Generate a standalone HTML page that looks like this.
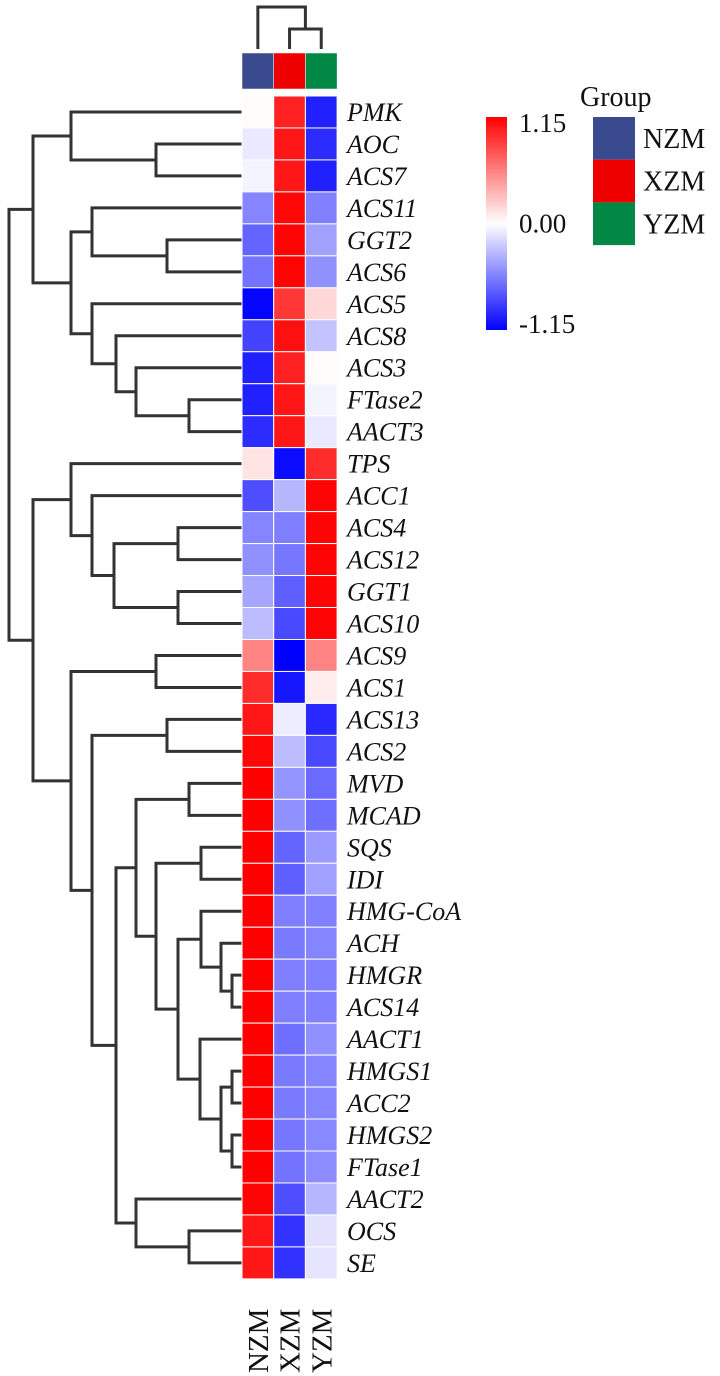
<!DOCTYPE html>
<html><head><meta charset="utf-8"><style>
html,body{margin:0;padding:0;background:#fff;}
svg{display:block;font-family:"Liberation Serif",serif;}
</style></head><body>
<svg id="chart" width="720" height="1376" viewBox="0 0 720 1376" xmlns="http://www.w3.org/2000/svg">
<g id="dendro-left"></g>
<g id="dendro-top"></g>
<g id="group-bar"></g>
<g id="cells"></g>
<g id="row-labels"></g>
<g id="col-labels"></g>
<g id="legend"></g>
<g id="group-legend"></g>
</svg>
<script>
const genes = ["PMK","AOC","ACS7","ACS11","GGT2","ACS6","ACS5","ACS8","ACS3","FTase2","AACT3","TPS","ACC1","ACS4","ACS12","GGT1","ACS10","ACS9","ACS1","ACS13","ACS2","MVD","MCAD","SQS","IDI","HMG-CoA","ACH","HMGR","ACS14","AACT1","HMGS1","ACC2","HMGS2","FTase1","AACT2","OCS","SE"];
const groups = ["NZM","XZM","YZM"];
const groupColors = ["#3a4a8e","#ee0000","#008844"];
const valsNZM = [0.02,-0.1,-0.05,-0.55,-0.7,-0.63,-1.13,-0.85,-1.0,-1.0,-0.95,0.12,-0.8,-0.55,-0.5,-0.4,-0.3,0.55,0.95,1.05,1.12,1.15,1.15,1.15,1.15,1.15,1.15,1.15,1.15,1.15,1.15,1.15,1.15,1.15,1.13,1.05,1.05];
const valsXZM = [1.0,1.05,1.05,1.12,1.13,1.14,0.9,1.08,1.0,1.05,1.05,-1.1,-0.33,-0.58,-0.62,-0.72,-0.82,-1.15,-1.05,-0.08,-0.3,-0.48,-0.5,-0.7,-0.72,-0.58,-0.6,-0.58,-0.58,-0.65,-0.6,-0.6,-0.62,-0.63,-0.8,-0.92,-0.93];
const valsYZM = [-1.0,-0.95,-1.0,-0.57,-0.43,-0.5,0.18,-0.27,0.02,-0.05,-0.1,0.95,1.13,1.13,1.13,1.13,1.13,0.55,0.08,-0.97,-0.82,-0.67,-0.65,-0.45,-0.43,-0.57,-0.55,-0.57,-0.57,-0.5,-0.55,-0.55,-0.53,-0.52,-0.33,-0.13,-0.12];
const legendTicks = [1.15,0.00,-1.15];
const legendTickLabels = ["1.15","0.00","-1.15"];
// row tree: [mergeDistance, left, right]; leaves are row indices
const rowTree = [233,
  [209,
    [171,0,[86,1,2]],
    [171,[150,3,[75,4,5]],[150,6,[126,7,[106,8,[53,9,10]]]]]],
  [209,
    [171,11,[150,12,[128,[64,13,14],[64,15,16]]]],
    [171,[86,17,18],[150,[75,19,20],[126,
        [106,[53,21,22],[86,[41,23,24],[64,[41,25,[21,26,[10,27,28]]],[42,29,[21,[10,30,31],[10,32,33]]]]]],
        [106,34,[53,35,36]]]]]]];
// column tree (NZM, (XZM, YZM))
const colTree = [42,0,[20,1,2]];

const NS="http://www.w3.org/2000/svg";
const hmLeft=242, cellW=31.7, hmTop=96, cellH=31.97, vmax=1.15;
const rowY=i=>hmTop+cellH*(i+0.5);
const colX=j=>hmLeft+cellW*(j+0.5);
const distX=d=>hmLeft-d;
const distY=d=>49-d;
function color(v){
  let t=Math.max(-1,Math.min(1,v/vmax));
  if(t>=0){const c=Math.round(255*(1-t));return `rgb(255,${c},${c})`;}
  const c=Math.round(255*(1+t));return `rgb(${c},${c},255)`;
}
function mk(tag,attrs,parent){const e=document.createElementNS(NS,tag);for(const k in attrs)e.setAttribute(k,attrs[k]);parent.appendChild(e);return e;}

const cells=document.getElementById('cells');
const series=[valsNZM,valsXZM,valsYZM];
genes.forEach((g,i)=>{
  series.forEach((arr,j)=>{
    const r=mk('rect',{x:colX(j)-cellW/2,y:rowY(i)-cellH/2,width:cellW,height:cellH,fill:color(arr[i]),stroke:'#ffffff','stroke-width':1},cells);
    
    
  });
});
const rl=document.getElementById('row-labels');
genes.forEach((g,i)=>{
  const t=mk('text',{x:347,y:rowY(i)+9,'font-size':26,'font-style':'italic',fill:'#111'},rl);
  t.textContent=g;
  
  
});
const cl=document.getElementById('col-labels');
groups.forEach((g,j)=>{
  const x=colX(j)+10, y=1373;
  const t=mk('text',{x:x,y:y,'font-size':29,fill:'#111',transform:`rotate(-90 ${x} ${y})`},cl);
  t.textContent=g;
  
  
});
const gb=document.getElementById('group-bar');
groups.forEach((g,j)=>{
  const r=mk('rect',{x:colX(j)-cellW/2,y:53,width:cellW,height:36,fill:groupColors[j],stroke:'#fff','stroke-width':0.5},gb);
  
  
});
function drawRow(node,g){
  if(typeof node==='number') return {y:rowY(node),x:hmLeft};
  const a=drawRow(node[1],g), b=drawRow(node[2],g);
  const x=distX(node[0]);
  const p=mk('path',{d:`M${a.x},${a.y}H${x}V${b.y}H${b.x}`,fill:'none',stroke:'#333','stroke-width':3},g);
  
  
  return {x:x,y:(a.y+b.y)/2};
}
drawRow(rowTree,document.getElementById('dendro-left'));
function drawCol(node,g){
  if(typeof node==='number') return {x:colX(node),y:49};
  const a=drawCol(node[1],g), b=drawCol(node[2],g);
  const y=distY(node[0]);
  const p=mk('path',{d:`M${a.x},${a.y}V${y}H${b.x}V${b.y}`,fill:'none',stroke:'#333','stroke-width':3},g);
  
  
  return {x:(a.x+b.x)/2,y:y};
}
drawCol(colTree,document.getElementById('dendro-top'));
const lg=document.getElementById('legend');
const defs=mk('defs',{},lg);
const grad=mk('linearGradient',{id:'cg',x1:0,y1:0,x2:0,y2:1},defs);
mk('stop',{offset:'0','stop-color':'#ff0000'},grad);
mk('stop',{offset:'0.5','stop-color':'#ffffff'},grad);
mk('stop',{offset:'1','stop-color':'#0000ff'},grad);
const barTop=117, barBot=330;
const cb=mk('rect',{x:486,y:barTop,width:21,height:barBot-barTop,fill:'url(#cg)'},lg);


const legY=v=>barTop+(vmax-v)/(2*vmax)*(barBot-barTop-12)+6;
legendTicks.forEach((v,k)=>{
  const t=mk('text',{x:519,y:legY(v)+9,'font-size':27,fill:'#111'},lg);
  t.textContent=legendTickLabels[k];
  
  
});
const gl=document.getElementById('group-legend');
const gt=mk('text',{x:580,y:106,'font-size':28,fill:'#111'},gl);
gt.textContent='Group';


groups.forEach((g,j)=>{
  const r=mk('rect',{x:593,y:117+j*42.7,width:42,height:42.7,fill:groupColors[j]},gl);
  
  
  const t=mk('text',{x:643,y:117+j*42.7+31,'font-size':28,fill:'#111'},gl);
  t.textContent=g;
  
  
});
</script>
</body></html>
